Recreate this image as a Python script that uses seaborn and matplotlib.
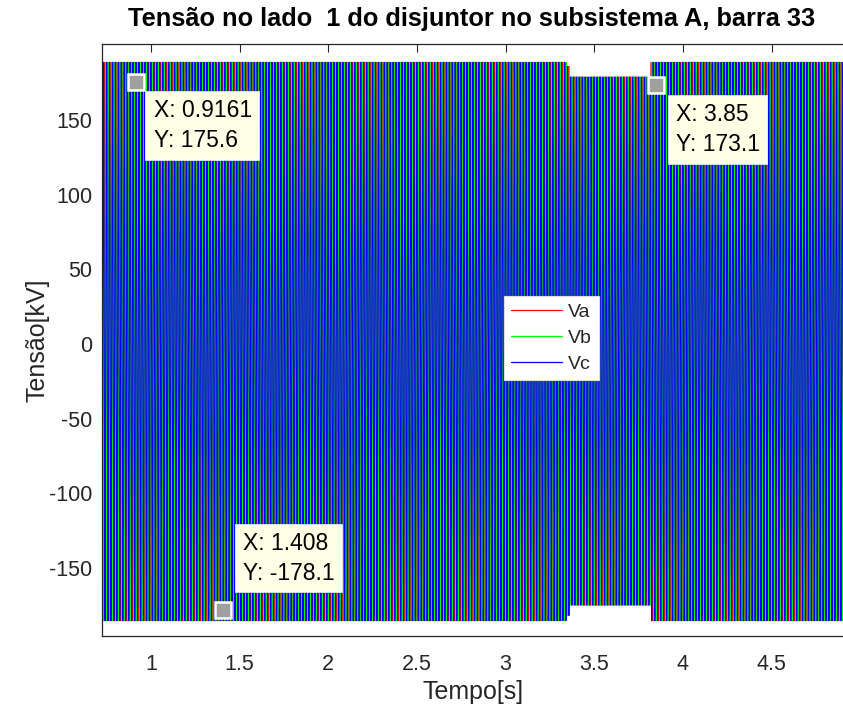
import numpy as np
import pandas as pd
import matplotlib
matplotlib.use("Agg")
import matplotlib.pyplot as plt
import seaborn as sns

# Envelope of the three-phase voltage (kV); each segment begins at seg_start (s)
seg_start = [0.72, 3.345, 3.36, 3.82]
seg_top = [188.8, 186.0, 179.0, 188.8]
seg_bottom = [-185.4, -182.0, -175.0, -185.4]
t_end = 4.92
freq_hz = 60.0
samples_per_cycle = 48

phases = ["Va", "Vb", "Vc"]
phase_shift_deg = [0.0, -120.0, 120.0]
phase_colors = ["#ff0000", "#00ff00", "#0000ff"]

# Data tips
tip_x = [0.9161, 3.85, 1.408]
tip_y = [175.6, 173.1, -178.1]
tip_labels = ["X: 0.9161\nY: 175.6", "X: 3.85\nY: 173.1", "X: 1.408\nY: -178.1"]

x_ticks = [1, 1.5, 2, 2.5, 3, 3.5, 4, 4.5]
y_ticks = [-150, -100, -50, 0, 50, 100, 150]

title = "Tensão no lado  1 do disjuntor no subsistema A, barra 33"

# ---- build the waveform table ----
t = np.arange(seg_start[0], t_end, 1.0 / (freq_hz * samples_per_cycle))
idx = np.searchsorted(seg_start, t, side="right") - 1
top = np.asarray(seg_top)[idx]
bot = np.asarray(seg_bottom)[idx]
center = (top + bot) / 2.0
half = (top - bot) / 2.0
frames = []
for name, sh in zip(phases, phase_shift_deg):
    v = center + half * np.sin(2 * np.pi * freq_hz * t + np.deg2rad(sh))
    frames.append(pd.DataFrame({"t": t, "V": v, "fase": name}))
df = pd.concat(frames, ignore_index=True)

sns.set_theme(style="white")
plt.rcParams["font.family"] = ["Liberation Sans", "DejaVu Sans"]
ink = "#262626"

W, H = 843, 711
fig = plt.figure(figsize=(W / 100, H / 100), dpi=100)
ax_l, ax_r, ax_t, ax_b = 102, 845, 44, 636
ax = fig.add_axes([ax_l / W, (H - ax_b) / H, (ax_r - ax_l) / W, (ax_b - ax_t) / H])

sns.lineplot(data=df, x="t", y="V", hue="fase", hue_order=phases,
             palette=dict(zip(phases, phase_colors)), estimator=None,
             sort=False, linewidth=0.75, antialiased=True, ax=ax)

ax.set_xlim(0.7236, 4.914)
ax.set_ylim(-195.4, 200.8)
ax.set_xticks(x_ticks)
ax.set_xticklabels([f"{v:g}" for v in x_ticks])
ax.set_yticks(y_ticks)
ax.set_yticklabels([f"{v:g}" for v in y_ticks])
ax.tick_params(direction="in", length=5.5, width=0.8, colors=ink,
               labelsize=15.5, top=True, right=True)
ax.tick_params(axis="x", pad=13)
ax.tick_params(axis="y", pad=7)
for s in ax.spines.values():
    s.set_color(ink)
    s.set_linewidth(0.9)

xl = ax.set_xlabel("Tempo[s]", fontsize=18, color=ink)
ax.xaxis.set_label_coords(0.5, -(692 - ax_b) / (ax_b - ax_t))
xl.set_va("center")
yl = ax.set_ylabel("Tensão[kV]", fontsize=18, color=ink)
ax.yaxis.set_label_coords(-(ax_l - 38) / (ax_r - ax_l), (ax_b - 340) / (ax_b - ax_t))
yl.set_va("center")

ax.text(0.497, (ax_b - 19) / (ax_b - ax_t), title, transform=ax.transAxes,
        ha="center", va="center", fontsize=18.3, fontweight="bold", color="black")

handles, labels = ax.get_legend_handles_labels()
leg = ax.legend(handles, labels, loc="center", bbox_to_anchor=(0.605, 0.503),
                fontsize=14, handlelength=2.6, handletextpad=0.3,
                labelspacing=0.42, borderpad=0.38, fancybox=False,
                framealpha=1, edgecolor="#dddddd", facecolor="white")
leg.get_frame().set_linewidth(0.8)
for ln in leg.get_lines():
    ln.set_linewidth(0.9)

# data tip markers and boxes
ax.plot(tip_x, tip_y, "s", ms=12, mfc="#a0a0a0", mec="white", mew=1.8,
        zorder=6, clip_on=False)
offsets = [((17.5, -17.5), "top"), ((19.7, -17.6), "top"), ((19.7, 25.0), "bottom")]
for x, y, lab, (off, va) in zip(tip_x, tip_y, tip_labels, offsets):
    ax.annotate(lab, xy=(x, y), xytext=off, textcoords="offset pixels",
                ha="left", va=va, fontsize=16.5, color="black", linespacing=1.4,
                zorder=7,
                bbox=dict(boxstyle="square,pad=0.32", fc="#ffffe6",
                          ec="white", lw=1.2))

fig.savefig("out.png", dpi=100)
